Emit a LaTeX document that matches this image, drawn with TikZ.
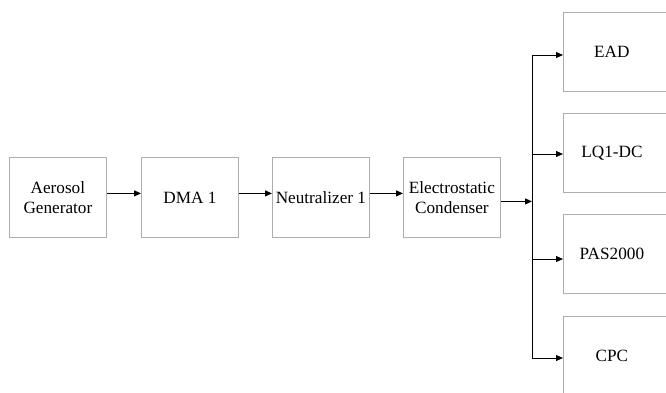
\documentclass[tikz,border=0pt]{standalone}
\usepackage{fontspec}
\setmainfont{Liberation Serif}
\usetikzlibrary{arrows.meta}
\begin{document}
\begin{tikzpicture}[x=1pt,y=-1pt,
  frame/.style={draw=black!32, line width=0.8pt},
  block/.style={frame, minimum width=97pt, minimum height=80pt,
    inner sep=0pt, align=center, font=\rmfamily\fontsize{17.2}{20.5}\selectfont, anchor=north west},
  sideblock/.style={block, draw=none, minimum height=79pt},
  flow/.style={-{Triangle[length=7pt,width=6pt]}, line width=1pt, black}]
\useasboundingbox (0,0) rectangle (666,392);
\clip (0,0) rectangle (666,392);
\fill[white] (0,0) rectangle (666,392);

% main chain
\node[block] (gen) at (9,157) {Aerosol\\Generator};
\node[block] (dma) at (141,157) {DMA 1};
\node[block] (neu) at (272,157) {Neutralizer 1};
\node[block] (ec)  at (403,157) {Electrostatic\\Condenser};

% instruments (frames run past the right edge)
\node[sideblock] (ead) at (563,12) {EAD};
\node[sideblock] (lq)  at (563,113) {LQ1-DC};
\node[sideblock] (pas) at (563,214) {PAS2000};
\node[sideblock] (cpc) at (563,316) {CPC};
\foreach \n in {ead,lq,pas,cpc}
  \draw[frame] ([xshift=20pt]\n.north east) -| (\n.south west) -- ([xshift=20pt]\n.south east);

\draw[flow] ([yshift=4pt]gen.east) -- ([yshift=4pt]dma.west);
\draw[flow] ([yshift=4pt]dma.east) -- ([yshift=4pt]neu.west);
\draw[flow] ([yshift=4pt]neu.east) -- ([yshift=4pt]ec.west);

% split manifold
\coordinate (top) at (532,55);
\coordinate (bot) at (532,358);
\draw[flow] ([yshift=-4pt]ec.east) -- ([yshift=-4pt]ec.east -| top);
\draw[line width=1pt] (top) -- (bot);
\draw[flow] (top) -- (ead.west |- top);
\draw[flow] (532,154) -- (lq.west |- 0,154);
\draw[flow] (532,259) -- (pas.west |- 0,259);
\draw[flow] (bot) -- (cpc.west |- bot);
\end{tikzpicture}
\end{document}
